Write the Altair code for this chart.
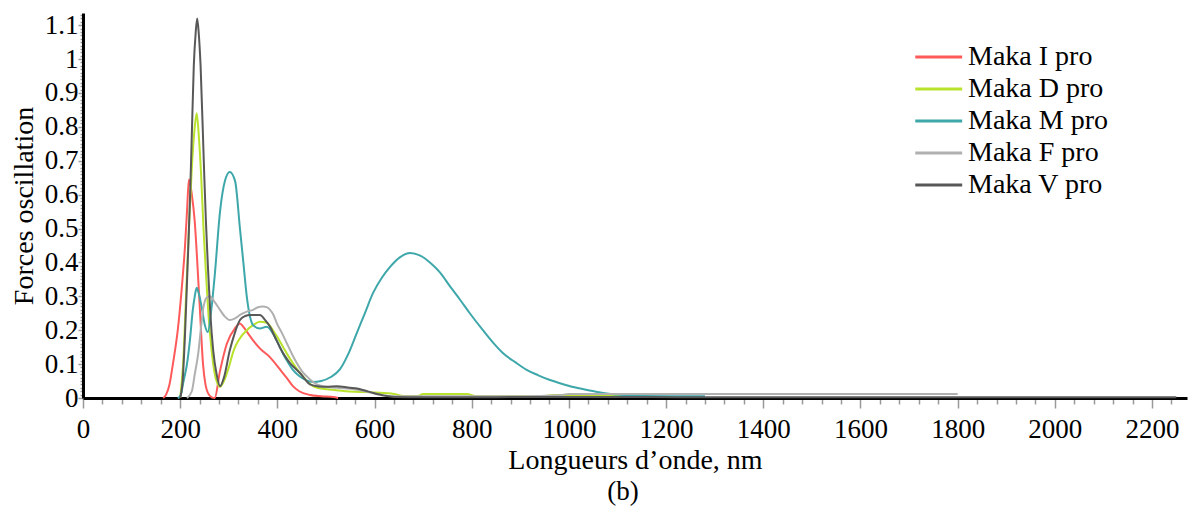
import altair as alt
import pandas as pd

series_names = ["Maka I pro", "Maka D pro", "Maka M pro", "Maka F pro", "Maka V pro"]
series_colors = ["#ff5a5a", "#b9e22c", "#3ea7aa", "#b0b0b0", "#585858"]

i_x = [165, 171, 178, 185, 195, 203, 210, 214, 218, 224, 230, 236, 241, 247, 252, 257, 265, 271, 282, 296, 313, 323, 330, 340, 350, 365, 385, 405, 420, 432, 445, 467, 490, 515, 525]
i_y = [0, 0.01, 0.04, 0.1, 0.2, 0.32, 0.45, 0.55, 0.645, 0.6, 0.52, 0.38, 0.25, 0.1, 0.04, 0.015, 0.002, 0.0, 0.08, 0.16, 0.206, 0.22, 0.21, 0.19, 0.17, 0.145, 0.12, 0.085, 0.058, 0.035, 0.02, 0.009, 0.005, 0.003, 0.0]

d_x = [200, 206, 212, 218, 224, 230, 234, 238, 243, 248, 253, 258, 264, 270, 276, 282, 290, 300, 310, 320, 337, 350, 364, 378, 391, 402, 412, 422, 432, 442, 453, 463, 473, 490, 514, 540, 570, 600, 640, 660, 690, 700, 790, 810, 940, 970, 1100, 1140]
d_y = [0, 0.1, 0.3, 0.5, 0.68, 0.8, 0.84, 0.78, 0.66, 0.5, 0.37, 0.25, 0.15, 0.08, 0.045, 0.033, 0.05, 0.09, 0.14, 0.17, 0.2, 0.215, 0.225, 0.222, 0.2, 0.175, 0.15, 0.125, 0.103, 0.082, 0.063, 0.047, 0.035, 0.028, 0.024, 0.02, 0.018, 0.016, 0.012, 0.006, 0.006, 0.012, 0.012, 0.005, 0.005, 0.009, 0.009, 0.003]

m_x = [195, 200, 207, 214, 220, 226, 230, 234, 238, 244, 250, 257, 264, 271, 282, 292, 302, 313, 323, 330, 337, 343, 350, 364, 378, 391, 402, 412, 422, 432, 445, 460, 473, 490, 510, 529, 546, 563, 580, 597, 615, 632, 652, 673, 694, 714, 735, 755, 776, 796, 823, 843, 864, 890, 913, 937, 961, 990, 1016, 1043, 1070, 1090, 1111, 1150, 1280]
m_y = [0, 0.005, 0.05, 0.1, 0.17, 0.26, 0.3, 0.325, 0.31, 0.27, 0.22, 0.195, 0.26, 0.36, 0.55, 0.64, 0.667, 0.64, 0.5, 0.4, 0.3, 0.245, 0.215, 0.205, 0.21, 0.19, 0.16, 0.13, 0.105, 0.083, 0.065, 0.052, 0.047, 0.05, 0.062, 0.085, 0.13, 0.19, 0.25, 0.31, 0.355, 0.387, 0.415, 0.428, 0.42, 0.4, 0.37, 0.33, 0.29, 0.25, 0.2, 0.165, 0.133, 0.105, 0.083, 0.067, 0.053, 0.04, 0.03, 0.022, 0.015, 0.011, 0.009, 0.006, 0.005]

f_x = [214, 224, 230, 237, 243, 247, 254, 261, 270, 282, 292, 302, 313, 323, 337, 350, 360, 370, 378, 385, 392, 399, 410, 420, 430, 440, 450, 461, 471, 481, 500, 522, 550, 580, 610, 640, 900, 980, 1000, 1800]
f_y = [0, 0.02, 0.07, 0.13, 0.21, 0.26, 0.295, 0.3, 0.285, 0.26, 0.24, 0.23, 0.235, 0.245, 0.255, 0.26, 0.268, 0.27, 0.268, 0.26, 0.245, 0.22, 0.19, 0.16, 0.13, 0.103, 0.08, 0.063, 0.05, 0.04, 0.033, 0.03, 0.027, 0.02, 0.01, 0.005, 0.005, 0.008, 0.012, 0.012]

v_x = [200, 205, 210, 215, 220, 224, 228, 232, 235, 238, 242, 249, 253, 257, 262, 268, 275, 282, 290, 302, 312, 323, 334, 344, 364, 375, 385, 395, 405, 415, 426, 437, 447, 457, 467, 485, 502, 522, 549, 564, 580, 597, 620, 640, 700, 1000, 1150, 1300, 1800, 2250]
v_y = [0, 0.05, 0.19, 0.38, 0.58, 0.78, 0.98, 1.08, 1.12, 1.08, 0.98, 0.68, 0.52, 0.39, 0.25, 0.14, 0.07, 0.035, 0.06, 0.14, 0.19, 0.23, 0.242, 0.245, 0.245, 0.23, 0.21, 0.18, 0.15, 0.125, 0.103, 0.087, 0.073, 0.055, 0.04, 0.034, 0.033, 0.035, 0.03, 0.028, 0.022, 0.015, 0.007, 0.003, 0.002, 0.003, 0.003, 0.002, 0.002, 0.002]

x_title = "Longueurs d\u2019onde, nm"
y_title = "Forces oscillation"
caption = "(b)"

x_ticks = [v for v in range(0, 2281, 40)]
y_ticks = [round(k * 0.01, 2) for k in range(0, 114)]

rows = []
for name, xs, ys in zip(series_names, [i_x, d_x, m_x, f_x, v_x], [i_y, d_y, m_y, f_y, v_y]):
    for xv, yv in zip(xs, ys):
        rows.append({"series": name, "wl": xv, "f": yv})
df = pd.DataFrame(rows)

FONT = "Liberation Serif"
Y_MAJOR = "abs(datum.value*10 - round(datum.value*10)) < 0.0001"

chart = alt.Chart(df).mark_line(strokeWidth=2, interpolate="monotone").encode(
    x=alt.X("wl:Q", title=x_title,
            scale=alt.Scale(domain=[0, 2272], nice=False, zero=False),
            axis=alt.Axis(values=x_ticks,
                          labelExpr="datum.value % 200 === 0 ? datum.value : ''",
                          labelOverlap=False, labelFlush=False,
                          tickSize={"condition": {"test": "datum.value % 200 === 0", "value": 10}, "value": 6},
                          tickColor="#9a9a9a", tickWidth=1.5,
                          domainColor="black", domainWidth=3,
                          labelFont=FONT, labelFontSize=27, labelColor="black", labelPadding=8,
                          titleFont=FONT, titleFontSize=28, titleFontWeight="normal", titleColor="black",
                          titlePadding=4, grid=False)),
    y=alt.Y("f:Q", title=y_title,
            scale=alt.Scale(domain=[0, 1.136], nice=False),
            axis=alt.Axis(values=y_ticks,
                          labelExpr=Y_MAJOR + " ? format(datum.value, '~g') : ''",
                          labelOverlap=False, labelFlush=False,
                          tickSize={"condition": {"test": Y_MAJOR, "value": 5}, "value": 3},
                          tickColor="#9a9a9a", tickWidth=1.5,
                          domainColor="black", domainWidth=3,
                          labelFont=FONT, labelFontSize=27, labelColor="black", labelPadding=0,
                          titleFont=FONT, titleFontSize=28, titleFontWeight="normal", titleColor="black",
                          titlePadding=6, grid=False)),
    color=alt.Color("series:N", title=None,
                    scale=alt.Scale(domain=series_names, range=series_colors),
                    legend=alt.Legend(orient="none", legendX=830, legendY=30,
                                      symbolType="M-1,0H3", symbolSize=550, symbolStrokeWidth=3,
                                      labelFont=FONT, labelFontSize=28, labelColor="black",
                                      labelOffset=27, rowPadding=4)),
).properties(
    width=1104, height=385,
    title=alt.TitleParams(caption, orient="bottom", font=FONT, fontSize=27, fontWeight="normal",
                          color="black", anchor="middle", dx=-12, offset=5),
    autosize=alt.AutoSizeParams(type="none"),
    padding={"left": 75, "top": 5, "right": 2, "bottom": 110},
).configure_view(stroke=None)

chart.save("out.html", embed_options={"renderer": "svg", "actions": False})
